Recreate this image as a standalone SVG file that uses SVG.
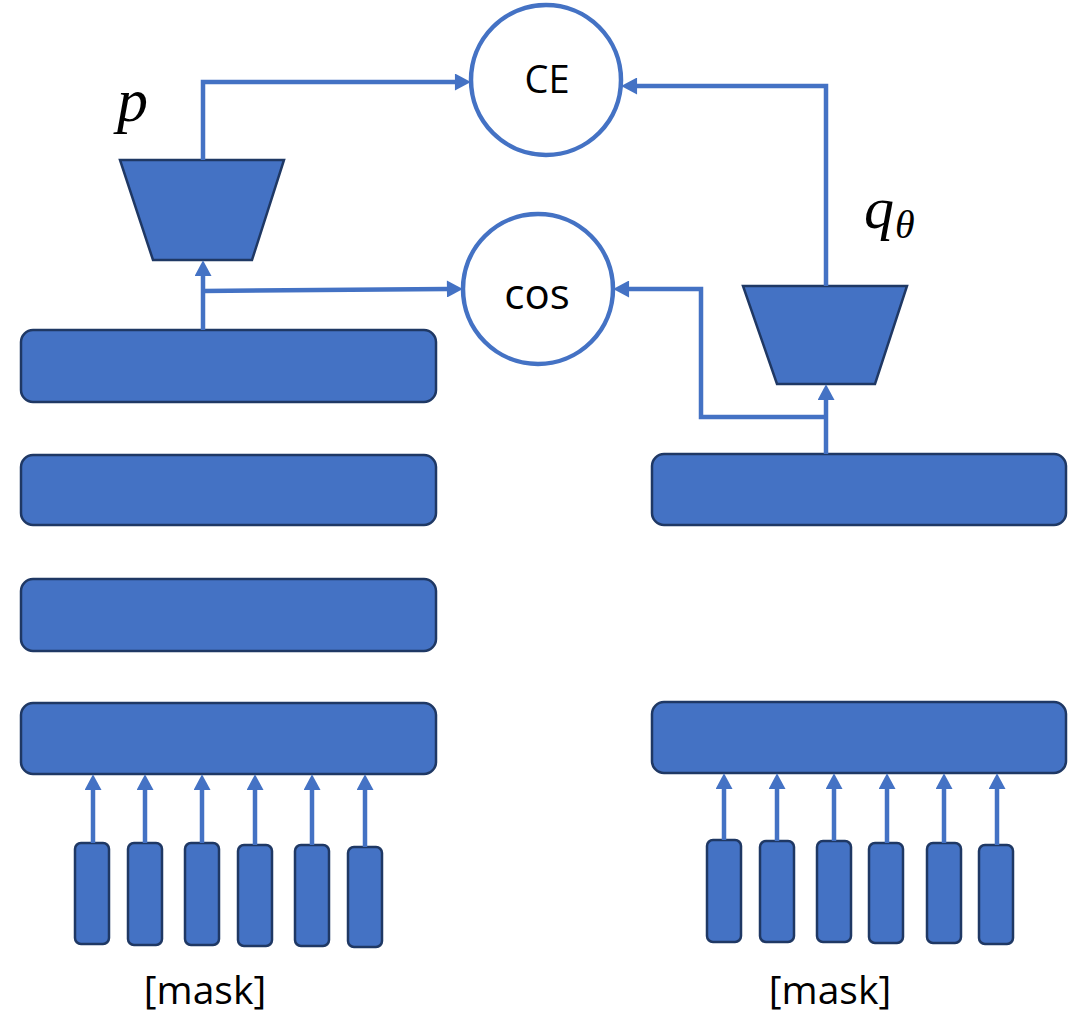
<svg xmlns="http://www.w3.org/2000/svg" width="1079" height="1017" viewBox="0 0 1079 1017">
  <style>
    .bar { fill: #4472c4; stroke: #1f3864; stroke-width: 2.5; }
    .tok { fill: #4472c4; stroke: #1f3864; stroke-width: 2.5; }
    .head { fill: #4472c4; stroke: #1f3864; stroke-width: 2.5; stroke-linejoin: miter; }
    .loss { fill: #ffffff; stroke: #4472c4; stroke-width: 4.5; }
    .wire { fill: none; stroke: #4472c4; stroke-width: 4.5; }
    .arr { marker-end: url(#tip); }
    .lbl { font-family: "Open Sans", "Noto Sans", sans-serif; fill: #000000; text-anchor: middle; }
    .math { font-family: "Liberation Serif", "DejaVu Serif", serif; font-style: italic; fill: #000000; }
  </style>
  <defs>
    <marker id="tip" markerUnits="userSpaceOnUse" markerWidth="17" markerHeight="17" viewBox="0 0 15 16" refX="1" refY="8" orient="auto">
      <path d="M0,0 L15,8 L0,16 z" fill="#4472c4"/>
    </marker>
  </defs>

  <rect width="1079" height="1017" fill="#ffffff"/>

  <!-- left encoder stack -->
  <g id="left-layer-4"><rect class="bar" x="21" y="330" width="415" height="72" rx="12"/></g>
  <g id="left-layer-3"><rect class="bar" x="21" y="455" width="415" height="70" rx="12"/></g>
  <g id="left-layer-2"><rect class="bar" x="21" y="579" width="415" height="72" rx="12"/></g>
  <g id="left-layer-1"><rect class="bar" x="21" y="703" width="415" height="71" rx="12"/></g>

  <!-- right encoder stack -->
  <g id="right-layer-top"><rect class="bar" x="652" y="454" width="414" height="71" rx="12"/></g>
  <g id="right-layer-1"><rect class="bar" x="652" y="702" width="414" height="71" rx="12"/></g>

  <!-- output heads -->
  <g id="head-p">
    <polygon class="head" points="120,160 284,160 252,260 153,260"/>
    <text class="math" x="117" y="121" font-size="62">p</text>
  </g>
  <g id="head-q">
    <polygon class="head" points="743,286 907,286 875,384 777,384"/>
    <text class="math" x="864" y="228" font-size="60">q</text>
    <text class="math" x="895" y="238" font-size="40">θ</text>
  </g>

  <!-- losses -->
  <g id="loss-ce">
    <circle class="loss" cx="546" cy="80" r="75"/>
    <text class="lbl" x="547" y="93" font-size="38">CE</text>
  </g>
  <g id="loss-cos">
    <circle class="loss" cx="538" cy="289" r="75"/>
    <text class="lbl" x="537" y="309" font-size="42">cos</text>
  </g>

  <!-- input tokens, left -->
  <g id="left-tokens">
    <rect class="tok" x="75" y="843" width="34" height="101" rx="6"/>
    <rect class="tok" x="128" y="843" width="34" height="102" rx="6"/>
    <rect class="tok" x="185" y="843" width="34" height="102" rx="6"/>
    <rect class="tok" x="238" y="845" width="34" height="101" rx="6"/>
    <rect class="tok" x="295" y="845" width="34" height="101" rx="6"/>
    <rect class="tok" x="348" y="847" width="34" height="100" rx="6"/>
    <text class="lbl" x="205" y="1004" font-size="39">[mask]</text>
  </g>

  <!-- input tokens, right -->
  <g id="right-tokens">
    <rect class="tok" x="707" y="840" width="34" height="102" rx="6"/>
    <rect class="tok" x="760" y="841" width="34" height="101" rx="6"/>
    <rect class="tok" x="817" y="841" width="34" height="101" rx="6"/>
    <rect class="tok" x="869" y="843" width="34" height="100" rx="6"/>
    <rect class="tok" x="927" y="843" width="34" height="100" rx="6"/>
    <rect class="tok" x="979" y="845" width="34" height="99" rx="6"/>
    <text class="lbl" x="830" y="1004" font-size="39">[mask]</text>
  </g>

  <!-- connectors -->
  <g id="connectors">
    <path class="wire arr" d="M203,160 V82 H456"/>
    <path class="wire arr" d="M826,286 V86 H636"/>
    <path class="wire arr" d="M203,330 V275"/>
    <path class="wire arr" d="M203,291 L448,289"/>
    <path class="wire arr" d="M826,454 V399"/>
    <path class="wire arr" d="M826,417 H701 V289 H628"/>

    <path class="wire arr" d="M93,843 V789"/>
    <path class="wire arr" d="M145,843 V789"/>
    <path class="wire arr" d="M202,843 V789"/>
    <path class="wire arr" d="M255,845 V789"/>
    <path class="wire arr" d="M312,845 V789"/>
    <path class="wire arr" d="M365,847 V789"/>

    <path class="wire arr" d="M724,840 V788"/>
    <path class="wire arr" d="M777,841 V788"/>
    <path class="wire arr" d="M834,841 V788"/>
    <path class="wire arr" d="M887,843 V788"/>
    <path class="wire arr" d="M944,843 V788"/>
    <path class="wire arr" d="M997,845 V788"/>
  </g>
</svg>
